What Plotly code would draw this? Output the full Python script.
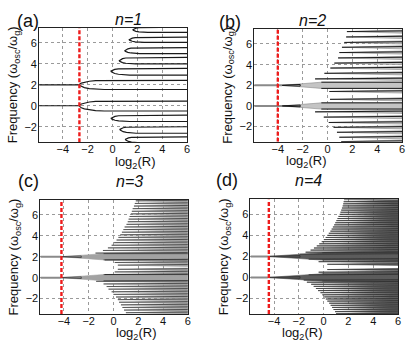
import plotly.graph_objects as go
from plotly.subplots import make_subplots

X_RANGE = [-5.9, 6.0]
Y_RANGE = [-3.47, 7.42]
X_TICKS = [-4, -2, 0, 2, 4, 6]
Y_TICKS = [-2, 0, 2, 4, 6]

PANEL_LABELS = ["(a)", "(b)", "(c)", "(d)"]
PANEL_TITLES = ["n=1", "n=2", "n=3", "n=4"]
RED_X = [-2.66, -4.0, -4.2, -4.42]

# (a) n=1 : hairpin branches (centre, tip, upper end, lower end)
A_MID = [7.25, 6.3, 5.25, 4.3, 3.3, 2.0, 0.0, -1.2, -2.25, -3.2]
A_TIP = [1.65, 1.35, 1.0, 0.55, -0.12, -2.66, -2.66, -0.1, 0.6, 1.05]
A_TOP = [7.5, 6.55, 5.55, 4.62, 3.57, 2.42, 0.45, -0.89, -2.0, -2.97]
A_BOT = [7.0, 6.05, 4.98, 3.99, 2.93, 1.55, -0.5, -1.5, -2.62, -3.54]
A_OPEN = [1.2, 1.2, 1.2, 1.3, 1.5, 2.0, 2.0, 1.5, 1.3, 1.2]
HAIRPIN_DX = [0, 0.02, 0.08, 0.2, 0.4, 0.65, 1.0]
HAIRPIN_W = [0, 0.18, 0.38, 0.6, 0.8, 0.93, 1.0]

# (b) n=2 : wedge centres and tips
B_MID = [7.2, 6.68, 6.15, 5.68, 5.17, 4.65, 4.15, 3.67, 3.16, 2.62,
         1.4, 0.64, -0.57, -1.08, -1.6, -2.07, -2.55, -3.03, -3.45]
B_TIP = [1.56, 1.5, 1.35, 1.16, 0.95, 0.85, 0.55, 0.23, -0.25, -1.0,
         0.15, 0.2, -1.0, -0.3, 0.1, 0.49, 0.76, 0.95, 1.1]

# (c) n=3
C_MID = [7.35, 7.1, 6.85, 6.6, 6.35, 6.1, 5.85, 5.6, 5.35, 5.1, 4.85, 4.6,
         4.35, 4.1, 3.85, 3.6, 3.35, 3.1, 2.85, 2.6, 2.35,
         1.7, 1.45, 1.2, 0.8, 0.55, 0.3,
         -0.35, -0.6, -0.85, -1.1, -1.35, -1.6, -1.85, -2.1, -2.35, -2.6,
         -2.85, -3.1, -3.35]
C_TIP = [1.8, 1.72, 1.65, 1.55, 1.48, 1.4, 1.3, 1.22, 1.15, 1.05, 0.9, 0.8,
         0.68, 0.55, 0.4, 0.25, 0.05, -0.15, -0.45, -0.85, -1.45,
         -0.7, 0.1, 0.35, 0.35, 0.1, -0.7,
         -1.4, -0.8, -0.55, -0.4, -0.15, 0.0, 0.2, 0.35, 0.45, 0.6,
         0.72, 0.85, 1.0]

# (d) n=4
D_MID = [7.4, 7.2, 7.0, 6.8, 6.6, 6.4, 6.2, 6.0, 5.8, 5.6, 5.4, 5.2, 5.0,
         4.8, 4.6, 4.4, 4.2, 4.0, 3.8, 3.6, 3.4, 3.2, 3.0, 2.8, 2.6, 2.4, 2.2,
         1.75, 1.5, 1.25, 0.75, 0.5, 0.25,
         -0.25, -0.45, -0.65, -0.85, -1.05, -1.25, -1.45, -1.65, -1.85,
         -2.05, -2.25, -2.45, -2.65, -2.85, -3.05, -3.25, -3.45]
D_TIP = [1.65, 1.62, 1.58, 1.54, 1.48, 1.42, 1.36, 1.3, 1.2, 1.12, 1.03,
         0.94, 0.85, 0.75, 0.65, 0.55, 0.42, 0.3, 0.17, 0.02, -0.15, -0.35,
         -0.55, -0.78, -1.05, -1.45, -1.95,
         -1.2, -0.4, 0.3, 0.3, -0.4, -1.2,
         -1.6, -1.35, -1.0, -0.8, -0.62, -0.45, -0.25, -0.1, 0.05,
         0.18, 0.3, 0.45, 0.57, 0.68, 0.8, 0.92, 1.0]

# main branches at 0 and 2 for (b)-(d): tip, end of dark core, end of fan
MAIN_Y = [2.0, 0.0]
MAIN_TIP = [-3.65, -4.2, -4.5]
MAIN_DARK_END = [-2.2, -2.6, -1.9]
MAIN_FAN_END = [-0.5, -0.8, -0.1]
MAIN_FAN_W = [0.3, 0.3, 0.35]

WEDGE_W = [0.15, 0.13, 0.11]
WEDGE_FILL = ["#c4c4c4", "#a2a2a2", "#5c5c5c"]
WEDGE_EDGE = ["#8a8a8a", "#a2a2a2", "#5c5c5c"]
LINE_W = [1.0, 0.6, 0.5]
LINE_COL = "#1a1a1a"

fig = make_subplots(rows=2, cols=2)
cells = [(1, 1), (1, 2), (2, 1), (2, 2)]


def hairpin(tip, mid, top, bot, open_len):
    xs, ys = [X_RANGE[1]], [top]
    for dx, w in reversed(list(zip(HAIRPIN_DX, HAIRPIN_W))):
        xs.append(tip + dx * open_len)
        ys.append(mid + (top - mid) * w)
    for dx, w in zip(HAIRPIN_DX, HAIRPIN_W):
        xs.append(tip + dx * open_len)
        ys.append(mid + (bot - mid) * w)
    xs.append(X_RANGE[1])
    ys.append(bot)
    return xs, ys


# panel (a)
xs, ys = [], []
for m, t, tp, bt, op in zip(A_MID, A_TIP, A_TOP, A_BOT, A_OPEN):
    hx, hy = hairpin(t, m, tp, bt, op)
    xs += hx + [None]
    ys += hy + [None]
for m in MAIN_Y:
    xs += [X_RANGE[0], A_TIP[A_MID.index(m)], None]
    ys += [m, m, None]
fig.add_trace(go.Scatter(x=xs, y=ys, mode="lines", line=dict(color=LINE_COL, width=1.2),
                         hoverinfo="skip"), row=1, col=1)

# panels (b)-(d)
for k, (mids, tips) in enumerate([(B_MID, B_TIP), (C_MID, C_TIP), (D_MID, D_TIP)]):
    r, c = cells[k + 1]
    w = WEDGE_W[k]
    fx, fy, lx, ly, gx, gy = [], [], [], [], [], []
    for m, t in zip(mids, tips):
        fx += [t, X_RANGE[1], X_RANGE[1], t, None]
        fy += [m, m + w, m - w, m, None]
        lx += [t, X_RANGE[1], None]
        ly += [m, m + 0.45 * w, None]
    for m in MAIN_Y:
        fw = MAIN_FAN_W[k]
        fx += [MAIN_TIP[k], MAIN_FAN_END[k], X_RANGE[1], X_RANGE[1], MAIN_FAN_END[k], MAIN_TIP[k], None]
        fy += [m, m + fw, m + fw, m - fw, m - fw, m, None]
        gx += [X_RANGE[0], MAIN_TIP[k], None]
        gy += [m, m, None]
        lx += [MAIN_TIP[k], MAIN_DARK_END[k], MAIN_DARK_END[k], MAIN_TIP[k], None]
        ly += [m + 0.02, m + 0.08, m - 0.08, m - 0.02, None]
        lx += [MAIN_FAN_END[k], X_RANGE[1], None, MAIN_FAN_END[k], X_RANGE[1], None]
        ly += [m + fw, m + fw, None, m - fw, m - fw, None]
    fig.add_trace(go.Scatter(x=fx, y=fy, mode="lines", fill="toself", fillcolor=WEDGE_FILL[k],
                             line=dict(color=WEDGE_EDGE[k], width=0.6), hoverinfo="skip"), row=r, col=c)
    fig.add_trace(go.Scatter(x=gx, y=gy, mode="lines", line=dict(color="#8a8a8a", width=2),
                             hoverinfo="skip"), row=r, col=c)
    fig.add_trace(go.Scatter(x=lx, y=ly, mode="lines", line=dict(color=LINE_COL, width=LINE_W[k]),
                             hoverinfo="skip"), row=r, col=c)

# red dashed markers
for (r, c), rx in zip(cells, RED_X):
    fig.add_trace(go.Scatter(x=[rx, rx], y=Y_RANGE, mode="lines",
                             line=dict(color="#ee1c1c", width=2.4, dash="4px,2px"),
                             hoverinfo="skip"), row=r, col=c)

# placement of the four axes boxes (paper fractions)
X_DOM = [[0.095, 0.454], [0.617, 0.976], [0.098, 0.456], [0.608, 0.966]]
Y_DOM = [[0.588, 0.919], [0.589, 0.915], [0.090, 0.420], [0.090, 0.422]]

tick_font = dict(family="Liberation Sans, Arial, sans-serif", size=11, color="#111")
axis_common = dict(showgrid=True, gridcolor="#9a9a9a", griddash="dot", gridwidth=1,
                   zeroline=False, showline=True, linecolor="#222", linewidth=1, mirror=True,
                   ticks="", tickfont=tick_font, layer="above traces")

for i, (r, c) in enumerate(cells):
    fig.update_xaxes(range=X_RANGE, tickvals=X_TICKS, domain=X_DOM[i], row=r, col=c,
                     ticklabelstandoff=-3, **axis_common)
    fig.update_yaxes(range=Y_RANGE, tickvals=Y_TICKS, domain=Y_DOM[i], row=r, col=c,
                     ticklabelstandoff=-1, **axis_common)

anns = []
font_lab = dict(family="Liberation Sans, Arial, sans-serif", size=13, color="#111")
for i in range(4):
    x0, x1 = X_DOM[i]
    y0, y1 = Y_DOM[i]
    xc = (x0 + x1) / 2
    anns.append(dict(text="<i>" + PANEL_TITLES[i] + "</i>", x=xc, y=y1 + 0.055, xref="paper", yref="paper",
                     showarrow=False, font=dict(family="Liberation Sans, Arial, sans-serif", size=16, color="#111")))
    anns.append(dict(text=PANEL_LABELS[i], x=x0 - 0.058, y=y1 + 0.055, xref="paper", yref="paper",
                     showarrow=False, font=dict(family="Liberation Sans, Arial, sans-serif", size=18, color="#111")))
    anns.append(dict(text="log<sub>2</sub>(R)", x=xc, y=y0 - 0.058, xref="paper", yref="paper",
                     showarrow=False, yanchor="middle", font=font_lab))
    anns.append(dict(text="Frequency (ω<sub>osc</sub>/ω<sub>g</sub>)", x=x0 - 0.063, y=(y0 + y1) / 2,
                     xref="paper", yref="paper", showarrow=False, textangle=-90,
                     xanchor="center", yanchor="middle", font=font_lab))

fig.update_layout(width=415, height=345, margin=dict(l=0, r=0, t=0, b=0),
                  paper_bgcolor="white", plot_bgcolor="white", showlegend=False,
                  annotations=anns)

# page body has a default 8px margin; drop it so the figure fills the window
fig.write_html("out.html", config={"displayModeBar": False},
               post_script="document.body.style.margin='0';")
